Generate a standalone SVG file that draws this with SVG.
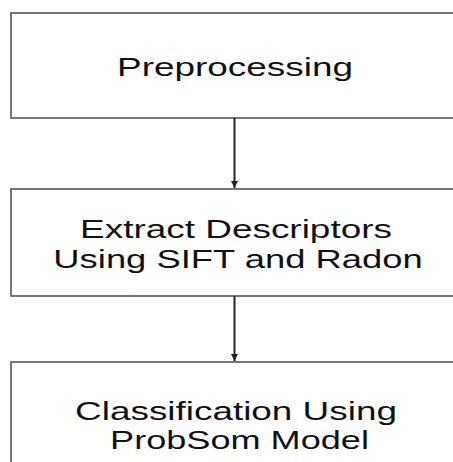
<svg xmlns="http://www.w3.org/2000/svg" width="453" height="462" viewBox="0 0 453 462">
<style>
.box{fill:#fff;stroke:#555;stroke-width:1.6}
.lbl{font-family:"Liberation Sans",Arial,sans-serif;font-size:25px;fill:#111;text-anchor:middle}
.conn{stroke:#222;stroke-width:2;fill:none}
</style>
<defs>
<marker id="ah" viewBox="0 0 10 10" refX="10" refY="5" markerWidth="3.5" markerHeight="3.5" orient="auto" markerUnits="strokeWidth">
<path d="M0,0 L10,5 L0,10 z" fill="#222"/>
</marker>
</defs>
<rect width="453" height="462" fill="#fff"/>
<g id="node-preprocessing">
<rect class="box" x="11" y="13" width="460" height="105"/>
<text class="lbl" style="font-size:26px" transform="translate(235 75.5) scale(1.42 1)">Preprocessing</text>
</g>
<g id="node-extract">
<rect class="box" x="11" y="189" width="460" height="107"/>
<text class="lbl" transform="translate(236 237.5) scale(1.478 1)">Extract Descriptors</text>
<text class="lbl" transform="translate(238 268) scale(1.455 1)">Using SIFT and Radon</text>
</g>
<g id="node-classification">
<rect class="box" x="11" y="362" width="460" height="120"/>
<text class="lbl" transform="translate(236 420) scale(1.476 1)">Classification Using</text>
<text class="lbl" transform="translate(239.5 449) scale(1.445 1)">ProbSom Model</text>
</g>
<g id="connectors">
<line class="conn" x1="234.5" y1="118" x2="234.5" y2="188" marker-end="url(#ah)"/>
<line class="conn" x1="234.5" y1="296" x2="234.5" y2="361" marker-end="url(#ah)"/>
</g>
</svg>
